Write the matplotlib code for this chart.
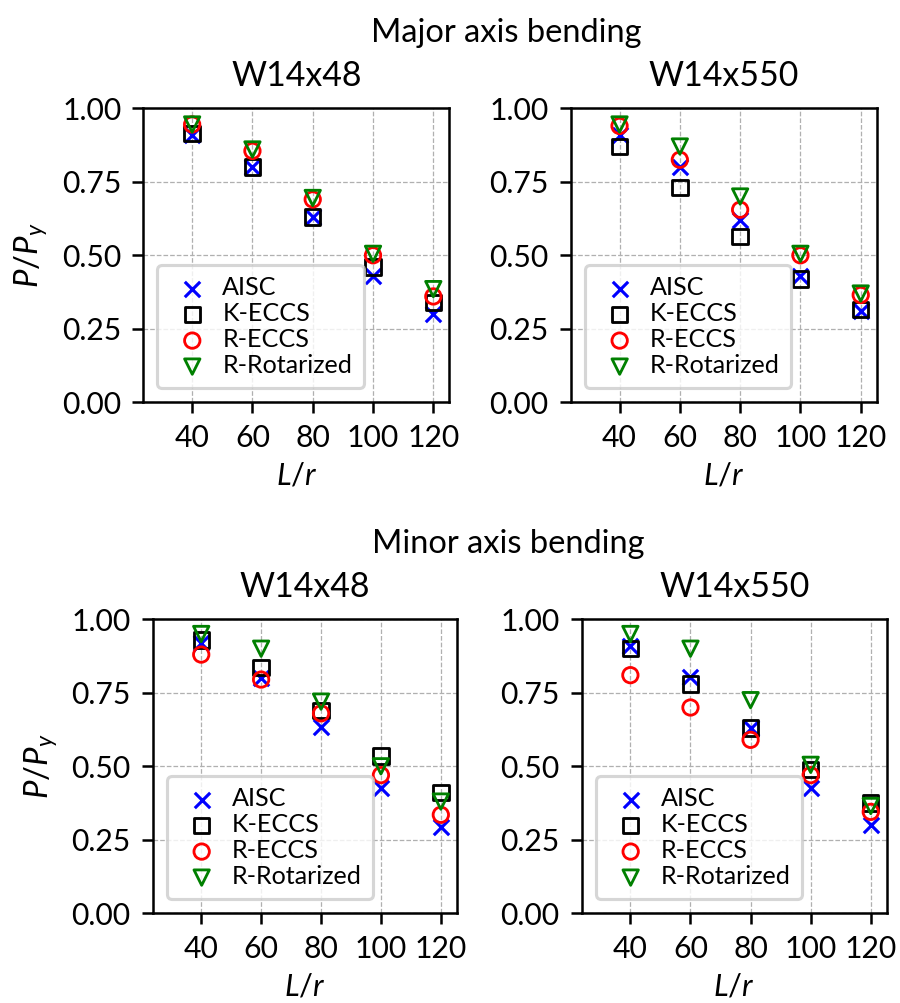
import matplotlib
matplotlib.use('Agg')
import matplotlib.pyplot as plt

# 长细比
slenderness = [40, 60, 80, 100, 120]

# Major axis bending
major_w48_aisc = [0.91, 0.80, 0.63, 0.43, 0.30]
major_w48_keccs = [0.915, 0.80, 0.63, 0.46, 0.34]
major_w48_reccs = [0.945, 0.855, 0.69, 0.50, 0.36]
major_w48_rrot = [0.945, 0.86, 0.695, 0.505, 0.385]

major_w550_aisc = [0.91, 0.80, 0.62, 0.43, 0.31]
major_w550_keccs = [0.87, 0.73, 0.565, 0.42, 0.315]
major_w550_reccs = [0.94, 0.825, 0.655, 0.50, 0.365]
major_w550_rrot = [0.945, 0.87, 0.70, 0.505, 0.37]

# Minor axis bending
minor_w48_aisc = [0.92, 0.80, 0.635, 0.425, 0.295]
minor_w48_keccs = [0.93, 0.835, 0.69, 0.535, 0.41]
minor_w48_reccs = [0.88, 0.795, 0.68, 0.47, 0.335]
minor_w48_rrot = [0.95, 0.90, 0.72, 0.50, 0.38]

minor_w550_aisc = [0.91, 0.805, 0.63, 0.425, 0.30]
minor_w550_keccs = [0.90, 0.78, 0.63, 0.49, 0.375]
minor_w550_reccs = [0.81, 0.70, 0.59, 0.47, 0.345]
minor_w550_rrot = [0.95, 0.90, 0.725, 0.505, 0.365]

yticks = [0.0, 0.25, 0.5, 0.75, 1.0]

plt.rcParams['font.family'] = ['Lato', 'DejaVu Sans']
plt.rcParams['font.size'] = 9
plt.rcParams['xtick.labelsize'] = 9.6
plt.rcParams['ytick.labelsize'] = 9.6
plt.rcParams['mathtext.fontset'] = 'custom'
plt.rcParams['mathtext.rm'] = 'Lato'
plt.rcParams['mathtext.it'] = 'Lato:italic'

DPI = 226
W, H = 900, 1003
fig = plt.figure(figsize=(W / DPI, H / DPI), dpi=DPI)


def px_axes(left, top, width=306, height=294):
    return fig.add_axes([left / W, (H - top - height) / H, width / W, height / H])


def plot_panel(ax, aisc, keccs, reccs, rrot, title, ylabel=True):
    ax.scatter(slenderness, aisc, s=24, marker='x', color='blue', linewidths=1.0, label='AISC', zorder=3)
    ax.scatter(slenderness, keccs, s=24, marker='s', facecolors='none', edgecolors='black', linewidths=0.9, label='K-ECCS', zorder=3)
    ax.scatter(slenderness, reccs, s=24, marker='o', facecolors='none', edgecolors='red', linewidths=0.9, label='R-ECCS', zorder=3)
    ax.scatter(slenderness, rrot, s=24, marker='v', facecolors='none', edgecolors='green', linewidths=0.9, label='R-Rotarized', zorder=3)
    ax.set_xlim(23.8, 125.3)
    ax.set_ylim(0, 1)
    ax.set_xticks(slenderness)
    ax.set_yticks(yticks)
    ax.set_yticklabels([f'{v:.2f}' for v in yticks])
    ax.grid(True, linestyle='--', linewidth=0.4, color='#b0b0b0')
    ax.set_axisbelow(True)
    ax.set_title(title, pad=7)
    ax.set_xlabel('$L/r$', fontsize=9.8, labelpad=3)
    if ylabel:
        ax.set_ylabel('$P/P_y$', fontsize=10.5)
    ax.legend(loc='lower left', fontsize=8, labelspacing=0.12, handlelength=1.9,
              handletextpad=0.25, borderpad=0.45, borderaxespad=0.55)


ax1 = px_axes(143.3, 108.3)
ax2 = px_axes(570.7, 108.3)
ax3 = px_axes(152.7, 619.3, width=304)
ax4 = px_axes(581.7, 619.3, width=305)

plot_panel(ax1, major_w48_aisc, major_w48_keccs, major_w48_reccs, major_w48_rrot, 'W14x48')
plot_panel(ax2, major_w550_aisc, major_w550_keccs, major_w550_reccs, major_w550_rrot, 'W14x550', ylabel=False)
plot_panel(ax3, minor_w48_aisc, minor_w48_keccs, minor_w48_reccs, minor_w48_rrot, 'W14x48')
plot_panel(ax4, minor_w550_aisc, minor_w550_keccs, minor_w550_reccs, minor_w550_rrot, 'W14x550', ylabel=False)

fig.text(506 / W, 1 - 42 / H, 'Major axis bending', ha='center', va='baseline', fontsize=10.4)
fig.text(508 / W, 1 - 553 / H, 'Minor axis bending', ha='center', va='baseline', fontsize=10.4)

fig.savefig('out.png', dpi=DPI)
